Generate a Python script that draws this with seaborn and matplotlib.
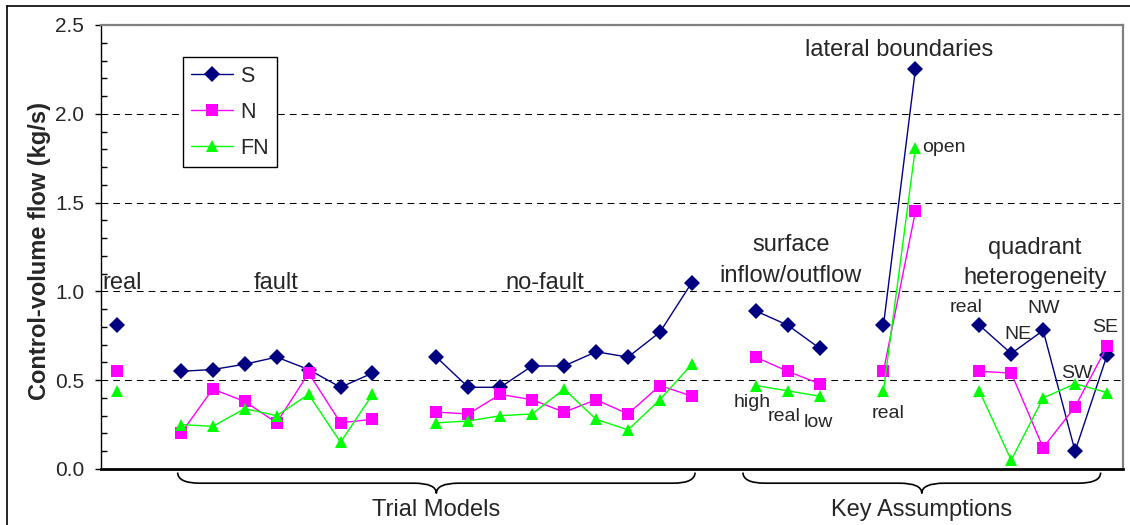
import numpy as np
import pandas as pd
import matplotlib
matplotlib.use("Agg")
import matplotlib.pyplot as plt
import matplotlib.transforms as mtransforms
import seaborn as sns
from matplotlib.path import Path
from matplotlib.patches import PathPatch
from matplotlib.lines import Line2D
from matplotlib.ticker import MultipleLocator, FormatStrFormatter

# ---------------------------------------------------------------------------
# Data (kg/s), one empty category slot between groups
# ---------------------------------------------------------------------------
group_names = ["real", "fault", "no-fault", "surface", "lateral", "quadrant"]
group_sizes = [1, 7, 9, 3, 2, 5]
series_names = ["S", "N", "FN"]

s_flow = [0.81,
          0.55, 0.56, 0.59, 0.63, 0.56, 0.46, 0.54,
          0.63, 0.46, 0.46, 0.58, 0.58, 0.66, 0.63, 0.77, 1.05,
          0.89, 0.81, 0.68,
          0.81, 2.25,
          0.81, 0.65, 0.78, 0.10, 0.64]
n_flow = [0.55,
          0.20, 0.45, 0.38, 0.26, 0.54, 0.26, 0.28,
          0.32, 0.31, 0.42, 0.39, 0.32, 0.39, 0.31, 0.47, 0.41,
          0.63, 0.55, 0.48,
          0.55, 1.45,
          0.55, 0.54, 0.12, 0.35, 0.69]
fn_flow = [0.44,
           0.25, 0.24, 0.34, 0.30, 0.42, 0.15, 0.42,
           0.26, 0.27, 0.30, 0.31, 0.45, 0.28, 0.22, 0.39, 0.59,
           0.47, 0.44, 0.41,
           0.44, 1.81,
           0.44, 0.05, 0.40, 0.48, 0.43]

# annotation labels: (text, x slot, y value)
group_labels = [
    ("real", 0.66, 1.05),
    ("fault", 5.48, 1.05),
    ("no-fault", 13.9, 1.05),
    ("surface\ninflow/outflow", 21.6, 1.175),
    ("lateral boundaries", 25.0, 2.36),
    ("quadrant\nheterogeneity", 29.24, 1.16),
]
case_labels = [
    ("open", 26.4, 1.81),
    ("real", 27.1, 0.91),
    ("NE", 28.7, 0.755),
    ("NW", 29.5, 0.905),
    ("SW", 30.55, 0.54),
    ("SE", 31.43, 0.795),
    ("high", 20.38, 0.377),
    ("real", 21.38, 0.293),
    ("low", 22.45, 0.262),
    ("real", 24.64, 0.315),
]
brace_spans = [(2.4, 18.6, "Trial Models"), (20.1, 31.3, "Key Assumptions")]

COLORS = {"S": "#000080", "N": "#FF00FF", "FN": "#00FF00"}
MARKERS = {"S": "D", "N": "s", "FN": "^"}

# category positions
positions, groups = [], []
slot = 0
for g, size in zip(group_names, group_sizes):
    for _ in range(size):
        positions.append(slot + 0.5)
        groups.append(g)
        slot += 1
    slot += 1
n_slots = slot - 1

df = pd.concat([
    pd.DataFrame({"pos": positions, "group": groups, "flow": vals, "series": name})
    for name, vals in zip(series_names, [s_flow, n_flow, fn_flow])
], ignore_index=True)

# ---------------------------------------------------------------------------
sns.set_style("ticks")
plt.rcParams["font.family"] = ["Liberation Sans", "DejaVu Sans"]

fig = plt.figure(figsize=(11.3, 5.25), dpi=100)
ax = fig.add_axes([0.0894, 0.1067, 0.9044, 0.8457])

sns.lineplot(data=df, x="pos", y="flow", hue="series", style="series",
             units="group", estimator=None, sort=False,
             hue_order=series_names, style_order=series_names,
             palette=COLORS, markers=MARKERS, dashes=False,
             linewidth=1.0, markersize=8, markeredgewidth=0,
             legend=False, ax=ax)

ax.set_xlim(0, n_slots)
ax.set_ylim(0, 2.5)
ax.set_xticks([])
ax.set_xlabel("")
ax.yaxis.set_major_locator(MultipleLocator(0.5))
ax.yaxis.set_minor_locator(MultipleLocator(0.1))
ax.yaxis.set_major_formatter(FormatStrFormatter("%.1f"))
ax.tick_params(axis="y", which="major", direction="out", length=4, width=1,
               pad=8, labelsize=15, color="black")
ax.tick_params(axis="y", which="minor", direction="in", length=4, width=1,
               color="black")
ax.yaxis.grid(True, which="major", linestyle=(0, (6.5, 4.8)),
              color="black", linewidth=0.75)
ax.set_axisbelow(True)

for side in ["top", "right"]:
    ax.spines[side].set_color("#808080")
    ax.spines[side].set_linewidth(1.6)
ax.spines["left"].set_color("black")
ax.spines["left"].set_linewidth(1.0)
ax.spines["bottom"].set_color("black")
ax.spines["bottom"].set_linewidth(2.0)

ax.set_ylabel("Control-volume flow (kg/s)", fontsize=17, fontweight="bold")
ax.yaxis.set_label_coords(-0.049, 0.49)

for text, x, y in group_labels:
    ax.text(x, y, text, ha="center", va="center", fontsize=17,
            linespacing=1.5)
for text, x, y in case_labels:
    ax.text(x, y, text, ha="center", va="center", fontsize=14)

# legend
handles = [Line2D([], [], color=COLORS[s], marker=MARKERS[s], markersize=8,
                  markeredgewidth=0, linewidth=1.0) for s in series_names]
leg = ax.legend(handles, series_names, loc="upper left",
                bbox_to_anchor=(0.080, 0.928), fontsize=15.5, frameon=True,
                fancybox=False, edgecolor="black", framealpha=1,
                handlelength=1.95, labelspacing=0.7, borderpad=0.4,
                handletextpad=0.3, borderaxespad=0)
leg.get_frame().set_linewidth(1.0)

# curly braces under the axis
def draw_brace(x0, x1, label):
    trans = mtransforms.blended_transform_factory(ax.transData, ax.transAxes)
    xc = (x0 + x1) / 2
    r = 0.7
    ytop, ymid, ybot = -0.008, -0.032, -0.055
    verts = [(x0, ytop), (x0, ymid), (x0 + r, ymid), (xc - r, ymid),
             (xc, ymid), (xc, ybot), (xc, ymid), (xc + r, ymid),
             (x1 - r, ymid), (x1, ymid), (x1, ytop)]
    codes = [Path.MOVETO, Path.CURVE3, Path.CURVE3, Path.LINETO,
             Path.CURVE3, Path.CURVE3, Path.CURVE3, Path.CURVE3,
             Path.LINETO, Path.CURVE3, Path.CURVE3]
    ax.add_patch(PathPatch(Path(verts, codes), transform=trans, fill=False,
                           edgecolor="black", linewidth=1.2, clip_on=False))
    ax.text(xc, -0.092, label, transform=trans, ha="center", va="center",
            fontsize=17)

for x0, x1, label in brace_spans:
    draw_brace(x0, x1, label)

# outer frame (left and top edges visible)
fig.add_artist(Line2D([0.0062, 0.0062], [0.0, 0.9886], transform=fig.transFigure,
                      color="black", linewidth=1.2))
fig.add_artist(Line2D([0.0062, 1.0], [0.9886, 0.9886], transform=fig.transFigure,
                      color="black", linewidth=1.2))

fig.savefig("out.png", dpi=100, facecolor="white")
